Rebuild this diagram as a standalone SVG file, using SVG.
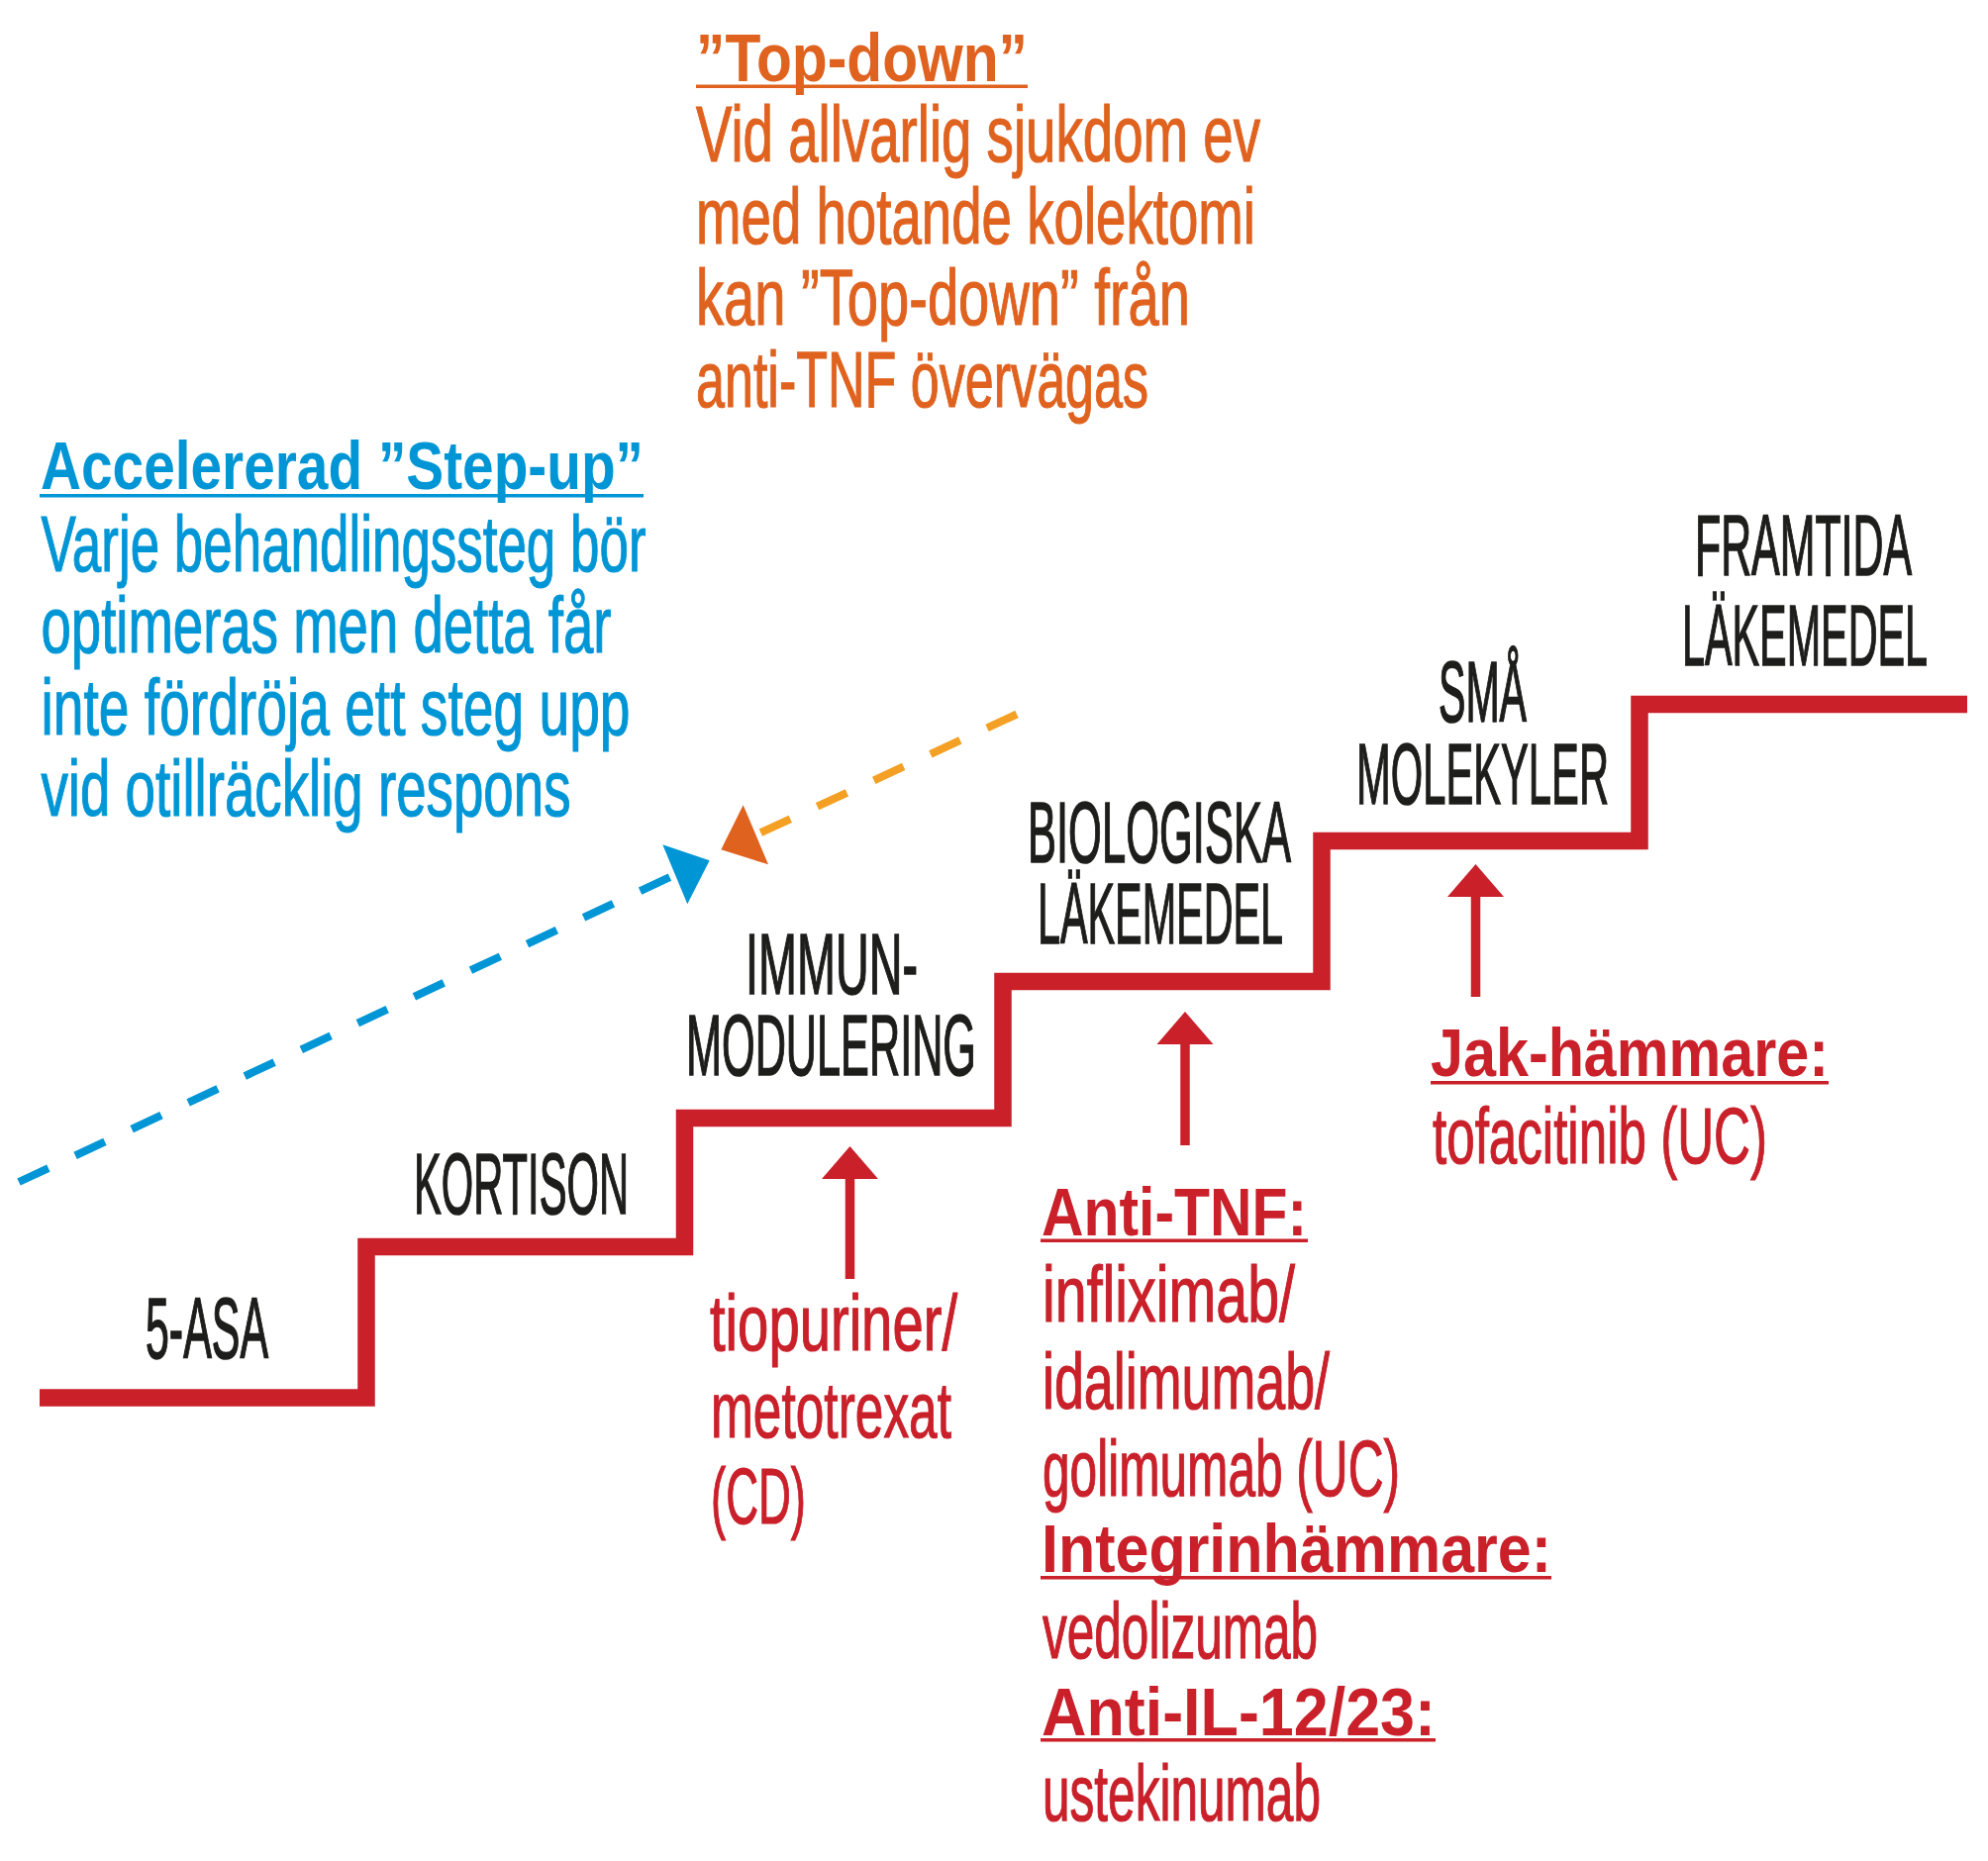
<svg xmlns="http://www.w3.org/2000/svg" width="2008" height="1880" viewBox="0 0 2008 1880">
<style>
text{font-family:"Liberation Sans Narrow","Liberation Sans",Arial,sans-serif}
.lbl{font-size:88px;fill:#1d1d1b;stroke:#1d1d1b;stroke-width:1.6}
.body{font-size:80px;stroke-width:1.2}
.head{font-size:68px;font-weight:bold}
.or{fill:#E0621F;stroke:#E0621F}
.bl{fill:#0096D6;stroke:#0096D6}
.rd{fill:#C9202A;stroke:#C9202A}
.head.or,.head.bl,.head.rd,rect.or,rect.bl,rect.rd,polygon.rd{stroke:none}
.stair{fill:none;stroke:#C9202A;stroke-width:17.5;stroke-linejoin:miter;stroke-linecap:butt}
.shaft{stroke:#C9202A;stroke-width:9.5}
.dash{fill:none;stroke-width:8;stroke-dasharray:33 30;stroke-linecap:butt}
</style>
<rect width="2008" height="1880" fill="#ffffff"/>

<g id="staircase">
<path class="stair" d="M40,1412 H370 V1259.5 H691.5 V1129.5 H1013 V991.5 H1335 V849.5 H1656 V711.5 H1987"/>
</g>

<g id="connectors">
<path class="dash" stroke="#0096D6" d="M19,1194 L682,883.5"/>
<polygon fill="#0096D6" points="669.3,853.3 716.7,869.3 694.3,913.3"/>
<path class="dash" stroke="#F4A024" d="M1027,721.5 L763.4,843.5"/>
<polygon fill="#E0621F" points="750.7,813.3 728.3,858.3 776,873.3"/>
<line class="shaft" x1="858.5" y1="1292" x2="858.5" y2="1185"/>
<polygon class="rd" points="858.5,1158 887,1191 830,1191"/>
<line class="shaft" x1="1197" y1="1157" x2="1197" y2="1050"/>
<polygon class="rd" points="1197,1022 1225.5,1055 1168.5,1055"/>
<line class="shaft" x1="1490.5" y1="1007" x2="1490.5" y2="900"/>
<polygon class="rd" points="1490.5,873 1519,906 1462,906"/>
</g>

<g id="note-topdown">
<text class="head or" x="703" y="82" textLength="335" lengthAdjust="spacingAndGlyphs">”Top-down”</text>
<rect class="or" x="703" y="85.5" width="335" height="3.5"/>
<text class="body or" x="703" y="163" textLength="570" lengthAdjust="spacingAndGlyphs">Vid allvarlig sjukdom ev</text>
<text class="body or" x="703" y="246" textLength="565" lengthAdjust="spacingAndGlyphs">med hotande kolektomi</text>
<text class="body or" x="703" y="328" textLength="499" lengthAdjust="spacingAndGlyphs">kan ”Top-down” från</text>
<text class="body or" x="703" y="411" textLength="457" lengthAdjust="spacingAndGlyphs">anti-TNF övervägas</text>
</g>

<g id="note-stepup">
<text class="head bl" x="41" y="494" textLength="609" lengthAdjust="spacingAndGlyphs">Accelererad ”Step-up”</text>
<rect class="bl" x="40" y="499" width="610" height="3.5"/>
<text class="body bl" x="41.5" y="577" textLength="611" lengthAdjust="spacingAndGlyphs">Varje behandlingssteg bör</text>
<text class="body bl" x="41.5" y="659" textLength="576" lengthAdjust="spacingAndGlyphs">optimeras men detta får</text>
<text class="body bl" x="41.5" y="742" textLength="595" lengthAdjust="spacingAndGlyphs">inte fördröja ett steg upp</text>
<text class="body bl" x="41.5" y="824" textLength="535" lengthAdjust="spacingAndGlyphs">vid otillräcklig respons</text>
</g>

<g id="step-5asa">
<text class="lbl" x="147" y="1372" textLength="124" lengthAdjust="spacingAndGlyphs">5-ASA</text>
</g>
<g id="step-kortison">
<text class="lbl" x="418" y="1226" textLength="217" lengthAdjust="spacingAndGlyphs">KORTISON</text>
</g>
<g id="step-immun">
<text class="lbl" x="753" y="1004" textLength="174" lengthAdjust="spacingAndGlyphs">IMMUN-</text>
<text class="lbl" x="693" y="1086" textLength="293" lengthAdjust="spacingAndGlyphs">MODULERING</text>
</g>
<g id="step-bio">
<text class="lbl" x="1038" y="871" textLength="266" lengthAdjust="spacingAndGlyphs">BIOLOGISKA</text>
<text class="lbl" x="1048" y="953" textLength="248" lengthAdjust="spacingAndGlyphs">LÄKEMEDEL</text>
</g>
<g id="step-sma">
<text class="lbl" x="1453" y="729" textLength="89" lengthAdjust="spacingAndGlyphs">SMÅ</text>
<text class="lbl" x="1370" y="812" textLength="255" lengthAdjust="spacingAndGlyphs">MOLEKYLER</text>
</g>
<g id="step-framtida">
<text class="lbl" x="1931" y="581" text-anchor="end" textLength="219" lengthAdjust="spacingAndGlyphs">FRAMTIDA</text>
<text class="lbl" x="1947" y="672" text-anchor="end" textLength="248" lengthAdjust="spacingAndGlyphs">LÄKEMEDEL</text>
</g>

<g id="drugs-immun">
<text class="body rd" x="717" y="1364" textLength="250" lengthAdjust="spacingAndGlyphs">tiopuriner/</text>
<text class="body rd" x="718" y="1452" textLength="243" lengthAdjust="spacingAndGlyphs">metotrexat</text>
<text class="body rd" x="718" y="1539" textLength="96" lengthAdjust="spacingAndGlyphs">(CD)</text>
</g>

<g id="drugs-bio">
<text class="head rd" x="1052" y="1248" textLength="268" lengthAdjust="spacingAndGlyphs">Anti-TNF:</text>
<rect class="rd" x="1051" y="1251.5" width="270" height="3.5"/>
<text class="body rd" x="1053" y="1335" textLength="255" lengthAdjust="spacingAndGlyphs">infliximab/</text>
<text class="body rd" x="1053" y="1423" textLength="290" lengthAdjust="spacingAndGlyphs">idalimumab/</text>
<text class="body rd" x="1053" y="1511" textLength="361" lengthAdjust="spacingAndGlyphs">golimumab (UC)</text>
<text class="head rd" x="1052" y="1588" textLength="515" lengthAdjust="spacingAndGlyphs">Integrinhämmare:</text>
<rect class="rd" x="1051" y="1592" width="516" height="3.5"/>
<text class="body rd" x="1053" y="1675" textLength="278" lengthAdjust="spacingAndGlyphs">vedolizumab</text>
<text class="head rd" x="1052" y="1753" textLength="398" lengthAdjust="spacingAndGlyphs">Anti-IL-12/23:</text>
<rect class="rd" x="1051" y="1756" width="399" height="3.5"/>
<text class="body rd" x="1053" y="1839" textLength="281" lengthAdjust="spacingAndGlyphs">ustekinumab</text>
</g>

<g id="drugs-sma">
<text class="head rd" x="1445" y="1087" textLength="402" lengthAdjust="spacingAndGlyphs">Jak-hämmare:</text>
<rect class="rd" x="1445" y="1092" width="402" height="3.5"/>
<text class="body rd" x="1447" y="1175" textLength="338" lengthAdjust="spacingAndGlyphs">tofacitinib (UC)</text>
</g>
</svg>
